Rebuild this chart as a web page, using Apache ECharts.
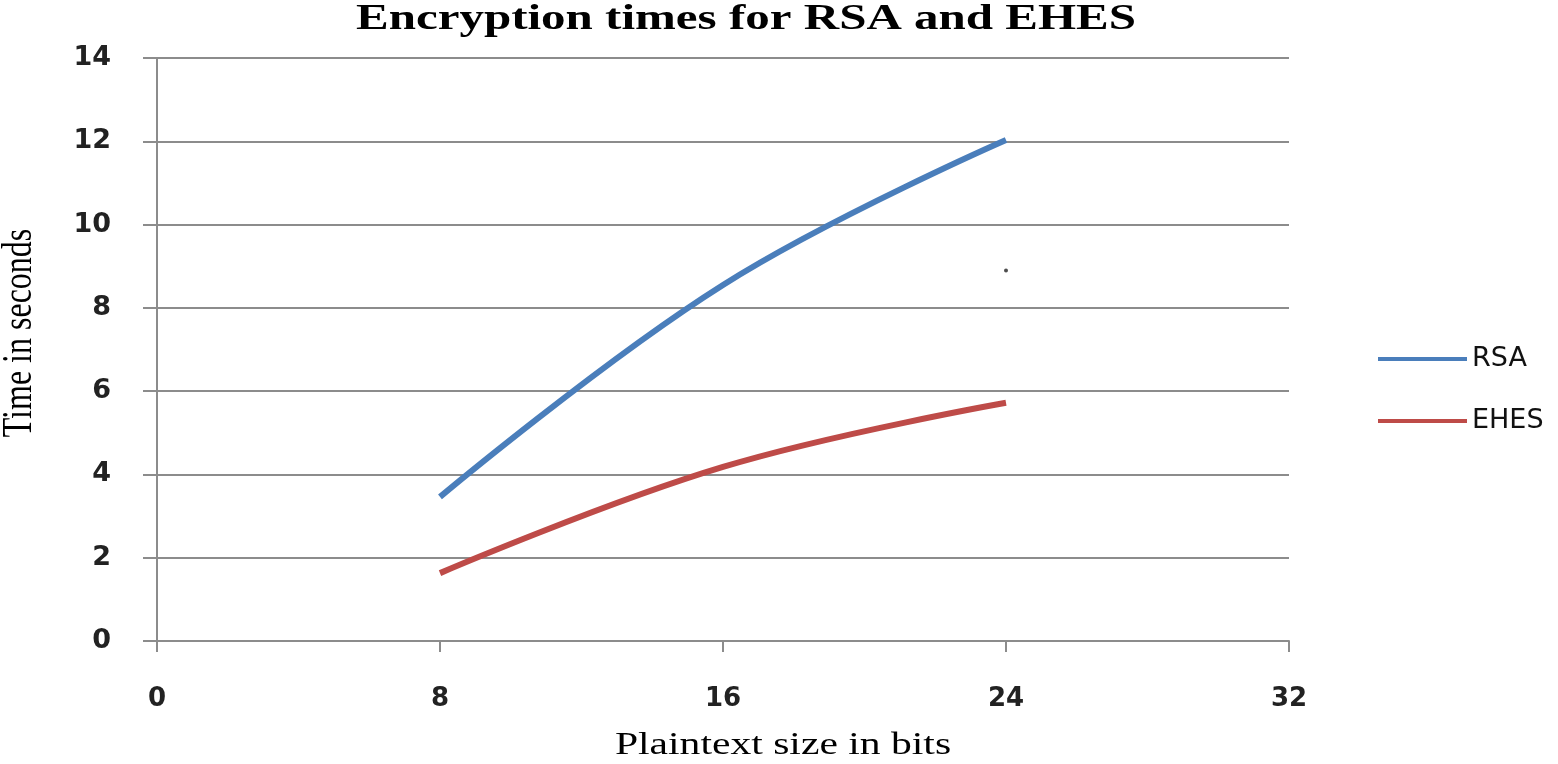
<!DOCTYPE html>
<html>
<head>
<meta charset="utf-8">
<script src="https://cdn.jsdelivr.net/npm/echarts@6/dist/echarts.min.js"></script>
<style>
  html, body { margin: 0; padding: 0; background: #fff; }
  #main { width: 1558px; height: 764px; }
</style>
</head>
<body>
<div id="main"></div>
<script>
  // values
  var sizes = [8, 16, 24];
  var rsa = [3.46, 8.55, 12.03];
  var ehes = [1.63, 4.18, 5.72];
  // small stray dot in the source picture
  var strayDot = [[24, 8.9]];

  var xTicks = [0, 8, 16, 24, 32];
  var yTicks = [0, 2, 4, 6, 8, 10, 12, 14];

  var myChart = echarts.init(document.getElementById('main'));

  function pairs(xs, ys) {
    var out = [];
    for (let i = 0; i < xs.length; i++) {
      out.push([xs[i], ys[i]]);
    }
    return out;
  }

  var serif = '"Liberation Serif", "DejaVu Serif", serif';
  var sans = '"DejaVu Sans", Verdana, sans-serif';
  var gridGray = '#8c8c8c';

  var option = {
    backgroundColor: '#fff',
    animation: false,
    // the source picture is stretched sideways, so the serif texts are scaled
    graphic: [
      {
        type: 'text',
        x: 746,
        y: 20,
        scaleX: 1.4,
        style: {
          text: 'Encryption times for RSA and EHES',
          font: 'bold 35px ' + serif,
          fill: '#000',
          align: 'center',
          verticalAlign: 'middle'
        }
      },
      {
        type: 'text',
        x: 783,
        y: 746,
        scaleX: 1.3,
        style: {
          text: 'Plaintext size in bits',
          font: '32px ' + serif,
          fill: '#000',
          align: 'center',
          verticalAlign: 'middle'
        }
      },
      {
        type: 'text',
        x: 20,
        y: 333,
        rotation: Math.PI / 2,
        scaleY: 1.35,
        style: {
          text: 'Time in seconds',
          font: '32px ' + serif,
          fill: '#000',
          align: 'center',
          verticalAlign: 'middle'
        }
      }
    ],
    legend: {
      orient: 'vertical',
      left: 1373,
      top: 339,
      icon: 'rect',
      itemWidth: 89,
      itemHeight: 4,
      itemGap: 32,
      textStyle: {
        fontFamily: sans,
        fontSize: 27,
        lineHeight: 30,
        color: '#111'
      },
      data: ['RSA', 'EHES']
    },
    grid: {
      left: 157,
      right: 269,
      top: 58,
      bottom: 123,
      outerBoundsMode: 'none'
    },
    xAxis: {
      type: 'value',
      min: xTicks[0],
      max: xTicks[xTicks.length - 1],
      interval: 8,
      axisLine: { lineStyle: { color: gridGray, width: 2 } },
      axisTick: { show: true, length: 11, lineStyle: { color: gridGray, width: 2 } },
      axisLabel: {
        margin: 45,
        fontFamily: sans,
        fontWeight: 'bold',
        fontSize: 26,
        color: '#222'
      },
      splitLine: { show: false }
    },
    yAxis: {
      type: 'value',
      min: yTicks[0],
      max: yTicks[yTicks.length - 1],
      interval: 2,
      axisLine: { show: true, lineStyle: { color: gridGray, width: 2 } },
      axisTick: { show: true, length: 14, lineStyle: { color: gridGray, width: 2 } },
      axisLabel: {
        margin: 46,
        fontFamily: sans,
        fontWeight: 'bold',
        fontSize: 27,
        color: '#222'
      },
      splitLine: { show: true, lineStyle: { color: gridGray, width: 2 } }
    },
    series: [
      {
        name: 'RSA',
        type: 'line',
        smooth: 0.4,
        symbol: 'none',
        color: '#4a7ebb',
        lineStyle: { width: 6, color: '#4a7ebb' },
        data: pairs(sizes, rsa)
      },
      {
        name: 'EHES',
        type: 'line',
        smooth: 0.4,
        symbol: 'none',
        color: '#be4b48',
        lineStyle: { width: 6, color: '#be4b48' },
        data: pairs(sizes, ehes)
      },
      {
        name: 'dot',
        type: 'scatter',
        symbolSize: 4,
        itemStyle: { color: '#222' },
        silent: true,
        data: strayDot
      }
    ]
  };

  option && myChart.setOption(option);
</script>
</body>
</html>
